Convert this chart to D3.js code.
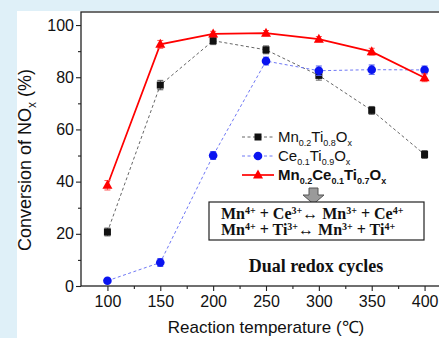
<!DOCTYPE html>
<html>
<head>
<meta charset="utf-8">
<script src="https://cdn.jsdelivr.net/npm/d3@7"></script>
<style>
  html, body { margin: 0; padding: 0; background: #dff0f8; }
  svg { display: block; }
</style>
</head>
<body>
<svg id="chart" width="439" height="338"></svg>
<script>
// Reaction temperatures (°C)
const temps = [100, 150, 200, 250, 300, 350, 400];
// NOx conversion (%) for each catalyst
const mnTi   = [20.7, 77.0, 94.0, 90.5, 80.7, 67.3, 50.4];
const ceTi   = [2.0, 9.0, 50.0, 86.2, 82.5, 82.9, 82.8];
const mnCeTi = [38.6, 92.6, 96.6, 96.9, 94.6, 89.8, 79.8];
// Error bar half-widths (%)
const errMnTi   = [1.5, 1.8, 1.5, 1.5, 1.8, 1.5, 1.5];
const errCeTi   = [0.8, 1.5, 1.5, 1.5, 1.8, 1.8, 1.5];
const errMnCeTi = [1.8, 1.5, 1.0, 1.0, 1.0, 1.3, 1.5];
// Axis ticks
const xTicks = [100, 150, 200, 250, 300, 350, 400];
const xMinor = [125, 175, 225, 275, 325, 375];
const yTicks = [0, 20, 40, 60, 80, 100];
const yMinor = [10, 30, 50, 70, 90];

const svg = d3.select("#chart");
const W = 439, H = 338;

// page backdrop and white panel
svg.append("rect").attr("width", W).attr("height", H).attr("fill", "#dff0f8");
svg.append("rect").attr("x", 17).attr("y", 11).attr("width", W - 17).attr("height", H - 11).attr("fill", "#ffffff");

const x = d3.scaleLinear().domain([75, 425]).range([81, 451]);
const y = d3.scaleLinear().domain([0, 105]).range([286, 12]);

const font = "'Liberation Sans', Arial, sans-serif";
const serif = "'Liberation Serif', 'Times New Roman', serif";

// frame
svg.append("rect")
  .attr("x", x(75)).attr("y", y(105))
  .attr("width", x(425) - x(75)).attr("height", y(0) - y(105))
  .attr("fill", "none").attr("stroke", "#222").attr("stroke-width", 1.3);

// axes
svg.append("g").attr("transform", `translate(${x(75)},0)`)
  .call(d3.axisLeft(y).tickValues(yTicks).tickSize(5).tickSizeOuter(0).tickPadding(2));
svg.append("g").attr("transform", `translate(${x(75)},0)`)
  .call(d3.axisLeft(y).tickValues(yMinor).tickSize(3).tickFormat("").tickSizeOuter(0));
svg.append("g").attr("transform", `translate(0,${y(0)})`)
  .call(d3.axisBottom(x).tickValues(xTicks).tickSize(5).tickSizeOuter(0).tickPadding(5));
svg.append("g").attr("transform", `translate(0,${y(0)})`)
  .call(d3.axisBottom(x).tickValues(xMinor).tickSize(3).tickFormat("").tickSizeOuter(0));

svg.selectAll(".domain").remove();
svg.selectAll(".tick line").attr("stroke", "#222").attr("stroke-width", 1.1);
svg.selectAll(".tick text").attr("font-family", font).attr("font-size", 16).attr("fill", "#111");

// axis titles
svg.append("text")
  .attr("transform", `translate(31,${160}) rotate(-90)`)
  .attr("text-anchor", "middle")
  .attr("font-family", font).attr("font-size", 18).attr("fill", "#111")
  .call(t => {
    t.append("tspan").text("Conversion of NO");
    t.append("tspan").attr("font-size", 12).attr("dy", 5).text("x");
    t.append("tspan").attr("dy", -5).text(" (%)");
  });

svg.append("text")
  .attr("x", 266).attr("y", 333)
  .attr("text-anchor", "middle")
  .attr("font-family", font).attr("font-size", 17).attr("fill", "#111")
  .text("Reaction temperature (\u2103)");

// series definitions
const series = [
  { vals: mnTi, err: errMnTi, color: "#111", line: "#666", width: 1, dash: "3,2.5", shape: "square", errColor: "#555" },
  { vals: ceTi, err: errCeTi, color: "#0a14f0", line: "#6f78f5", width: 1, dash: "3,2.5", shape: "circle", errColor: "#4a55f0" },
  { vals: mnCeTi, err: errMnCeTi, color: "#ff0000", line: "#ff0000", width: 1.7, dash: null, shape: "triangle", errColor: "#ff5050" }
];

const lineGen = d3.line().x(d => x(d[0])).y(d => y(d[1]));

function drawMarker(g, shape, cx, cy, color) {
  if (shape === "square") {
    g.append("rect").attr("x", cx - 3.5).attr("y", cy - 3.5).attr("width", 7).attr("height", 7).attr("fill", color);
  } else if (shape === "circle") {
    g.append("circle").attr("cx", cx).attr("cy", cy).attr("r", 4.3).attr("fill", color);
  } else {
    g.append("path")
      .attr("d", `M${cx},${cy - 5.5}L${cx + 5},${cy + 3.5}L${cx - 5},${cy + 3.5}Z`)
      .attr("fill", color);
  }
}

series.forEach(s => {
  const pts = temps.map((t, i) => [t, s.vals[i]]);
  svg.append("path").datum(pts)
    .attr("d", lineGen)
    .attr("fill", "none").attr("stroke", s.line).attr("stroke-width", s.width)
    .attr("stroke-dasharray", s.dash);
});

series.forEach(s => {
  const g = svg.append("g");
  temps.forEach((t, i) => {
    const cx = x(t), v = s.vals[i], e = s.err[i];
    g.append("line").attr("x1", cx).attr("x2", cx).attr("y1", y(v - e)).attr("y2", y(v + e))
      .attr("stroke", s.errColor).attr("stroke-width", 1);
    [v - e, v + e].forEach(b => {
      g.append("line").attr("x1", cx - 3).attr("x2", cx + 3).attr("y1", y(b)).attr("y2", y(b))
        .attr("stroke", s.errColor).attr("stroke-width", 1);
    });
    drawMarker(g, s.shape, cx, y(v), s.color);
  });
});

// legend
const legendRows = [
  { s: series[0], parts: [["Mn", 0], ["0.2", 1], ["Ti", 0], ["0.8", 1], ["O", 0], ["x", 1]], bold: false, y: 137 },
  { s: series[1], parts: [["Ce", 0], ["0.1", 1], ["Ti", 0], ["0.9", 1], ["O", 0], ["x", 1]], bold: false, y: 156 },
  { s: series[2], parts: [["Mn", 0], ["0.2", 1], ["Ce", 0], ["0.1", 1], ["Ti", 0], ["0.7", 1], ["O", 0], ["x", 1]], bold: true, y: 175 }
];
legendRows.forEach(r => {
  const g = svg.append("g");
  g.append("line").attr("x1", 242).attr("x2", 274).attr("y1", r.y).attr("y2", r.y)
    .attr("stroke", r.s.line).attr("stroke-width", r.s.width).attr("stroke-dasharray", r.s.dash);
  drawMarker(g, r.s.shape, 258, r.y, r.s.color);
  const t = g.append("text").attr("x", 278).attr("y", r.y + 5)
    .attr("font-family", font).attr("font-size", 15).attr("fill", "#111")
    .attr("font-weight", r.bold ? "bold" : "normal");
  let sub = false;
  r.parts.forEach(([txt, isSub]) => {
    const ts = t.append("tspan").text(txt);
    if (isSub && !sub) { ts.attr("font-size", 9).attr("dy", 4); sub = true; }
    else if (!isSub && sub) { ts.attr("dy", -4); sub = false; }
    else if (isSub) ts.attr("font-size", 9);
  });
});

// down arrow
svg.append("path")
  .attr("d", "M309,188 L318,188 L318,195 L324,195 L313.5,204 L303,195 L309,195 Z")
  .attr("fill", "#9a9a9a").attr("stroke", "#555").attr("stroke-width", 1);

// redox box
svg.append("rect").attr("x", 209).attr("y", 202).attr("width", 215).attr("height", 38)
  .attr("fill", "#fff").attr("stroke", "#222").attr("stroke-width", 1.2);

const eqs = [
  [["Mn", 0], ["4+", 1], [" + Ce", 0], ["3+", 1], ["\u2194 Mn", 0], ["3+", 1], [" + Ce", 0], ["4+", 1]],
  [["Mn", 0], ["4+", 1], [" + Ti", 0], ["3+", 1], ["\u2194 Mn", 0], ["3+", 1], [" + Ti", 0], ["4+", 1]]
];
eqs.forEach((parts, k) => {
  const t = svg.append("text").attr("x", 221).attr("y", 219 + k * 16)
    .attr("font-family", serif).attr("font-size", 16).attr("font-weight", "bold").attr("fill", "#111");
  let sup = false;
  parts.forEach(([txt, isSup]) => {
    const ts = t.append("tspan").text(txt);
    if (isSup) { ts.attr("font-size", 10).attr("dy", -5); sup = true; }
    else if (sup) { ts.attr("dy", 5); sup = false; }
  });
});

svg.append("text").attr("x", 316).attr("y", 272)
  .attr("text-anchor", "middle")
  .attr("font-family", serif).attr("font-size", 18).attr("font-weight", "bold").attr("fill", "#111")
  .text("Dual redox cycles");
</script>
</body>
</html>
